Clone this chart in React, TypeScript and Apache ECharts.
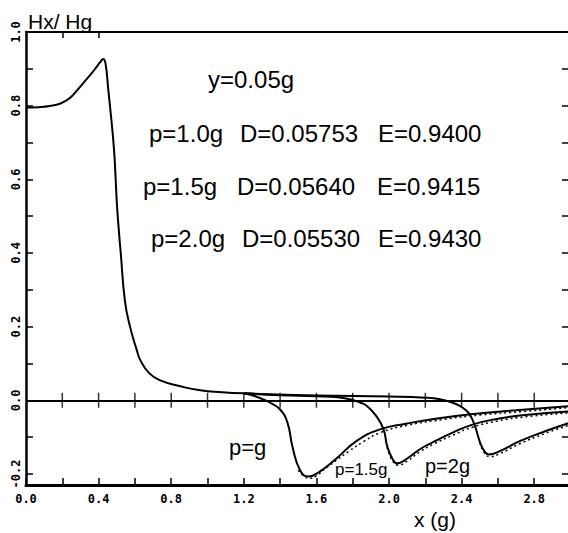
import React, { useEffect, useRef } from "react";
import * as echarts from "echarts";

// Main (shared) curve Hx/Hg, x in units of g
const mainX = [0.0, 0.07, 0.13, 0.19, 0.24, 0.28, 0.32, 0.36, 0.39, 0.41, 0.425, 0.438, 0.453, 0.472, 0.485, 0.492, 0.5, 0.51, 0.522, 0.545, 0.573, 0.61, 0.63, 0.68, 0.74, 0.85, 0.96, 1.08, 1.2];
const mainY = [0.795, 0.796, 0.799, 0.806, 0.82, 0.841, 0.864, 0.887, 0.906, 0.919, 0.927, 0.915, 0.845, 0.753, 0.68, 0.62, 0.54, 0.47, 0.4, 0.27, 0.2, 0.137, 0.109, 0.073, 0.054, 0.038, 0.027, 0.022, 0.019];

// p = 1.0g tail
const tail1X = [1.2, 1.25, 1.3, 1.35, 1.4, 1.44, 1.47, 1.51, 1.555, 1.62, 1.71, 1.82, 1.95, 2.1, 2.23, 2.45, 2.7, 2.99];
const tail1Y = [0.019, 0.013, 0.004, -0.008, -0.025, -0.06, -0.13, -0.19, -0.207, -0.193, -0.158, -0.111, -0.079, -0.063, -0.052, -0.038, -0.027, -0.016];

// p = 1.5g tail
const tail2X = [1.2, 1.4, 1.6, 1.72, 1.785, 1.84, 1.88, 1.93, 1.97, 1.99, 2.02, 2.045, 2.1, 2.17, 2.23, 2.35, 2.46, 2.6, 2.75, 2.99];
const tail2Y = [0.019, 0.014, 0.011, 0.008, 0.003, -0.006, -0.016, -0.043, -0.079, -0.125, -0.16, -0.171, -0.158, -0.133, -0.117, -0.088, -0.066, -0.05, -0.04, -0.03];

// p = 2.0g tail
const tail3X = [1.2, 1.6, 2.0, 2.2, 2.28, 2.34, 2.39, 2.43, 2.45, 2.475, 2.5, 2.525, 2.55, 2.61, 2.72, 2.86, 2.99];
const tail3Y = [0.019, 0.013, 0.01, 0.007, 0.003, -0.005, -0.015, -0.03, -0.043, -0.072, -0.112, -0.138, -0.147, -0.138, -0.111, -0.084, -0.062];

// Dotted companion curves (second computation) beside the dips
const dot1X = [1.5, 1.53, 1.56, 1.6, 1.65, 1.71, 1.78, 1.86, 1.95, 2.1, 2.3, 2.5, 2.75, 2.99];
const dot1Y = [-0.19, -0.205, -0.212, -0.205, -0.185, -0.163, -0.138, -0.112, -0.088, -0.068, -0.052, -0.04, -0.03, -0.02];
const dot2X = [1.99, 2.02, 2.05, 2.1, 2.17, 2.25, 2.35, 2.46, 2.6, 2.75, 2.99];
const dot2Y = [-0.128, -0.165, -0.176, -0.165, -0.14, -0.118, -0.095, -0.073, -0.056, -0.045, -0.034];
const dot3X = [2.5, 2.525, 2.555, 2.61, 2.72, 2.86, 2.99];
const dot3Y = [-0.115, -0.142, -0.153, -0.145, -0.118, -0.09, -0.068];

// Axis ticks and labels
const xTickValues = [0, 0.2, 0.4, 0.6, 0.8, 1.0, 1.2, 1.4, 1.6, 1.8, 2.0, 2.2, 2.4, 2.6, 2.8];
const xLabelValues = [0, 0.4, 0.8, 1.2, 1.6, 2.0, 2.4, 2.8];
const zeroLineCrossX = [0.2, 0.4, 0.6, 0.8, 1.0, 1.2, 1.4, 1.6, 1.8, 2.0, 2.2, 2.4, 2.6, 2.8];
const topTickValues = [0.2, 0.4];
const yTickValues = [-0.2, -0.1, 0, 0.1, 0.2, 0.3, 0.4, 0.5, 0.6, 0.7, 0.8, 0.9, 1.0];
const yLabelValues = [-0.2, 0, 0.2, 0.4, 0.6, 0.8, 1.0];

// Annotation texts
const gammaLabel = "y=0.05g";
const pLabels = ["p=1.0g", "p=1.5g", "p=2.0g"];
const dLabels = ["D=0.05753", "D=0.05640", "D=0.05530"];
const eLabels = ["E=0.9400", "E=0.9415", "E=0.9430"];
const curveLabels = ["p=g", "p=1.5g", "p=2g"];
const yTitle = "Hx/ Hg";
const xTitle = "x (g)";

const zip = (xs: number[], ys: number[]) => xs.map((x, i) => [x, ys[i]]);

const FONT = '"Liberation Sans", Arial, sans-serif';
const MONO = '"DejaVu Sans Mono", monospace';

export default function App() {
  const ref = useRef<HTMLDivElement>(null);

  useEffect(() => {
    if (!ref.current) return;
    const chart = echarts.init(ref.current, undefined, { renderer: "svg" });

    const lineSeries = (name: string, data: number[][], dotted = false) => ({
      name,
      type: "line",
      data,
      symbol: "none",
      smooth: 0.5,
      z: dotted ? 1 : 2,
      lineStyle: dotted
        ? { color: "#000", width: 1.5, type: [2, 3] }
        : { color: "#000", width: 2 },
      xAxisIndex: 0,
      yAxisIndex: 0,
    });

    const rowY = [133, 186, 238];
    const pX = [149, 143, 151];
    const dX = [240, 237, 242];
    const eX = [378, 377, 378];

    const texts: any[] = [];
    texts.push({
      type: "text",
      x: 28,
      y: 21,
      style: { text: yTitle, font: `21px ${FONT}`, fill: "#000", align: "left", verticalAlign: "middle" },
    });
    texts.push({
      type: "text",
      x: 208,
      y: 79,
      style: { text: gammaLabel, font: `24px ${FONT}`, fill: "#000", align: "left", verticalAlign: "middle" },
    });
    for (let i = 0; i < 3; i++) {
      [
        [pLabels[i], pX[i]],
        [dLabels[i], dX[i]],
        [eLabels[i], eX[i]],
      ].forEach(([t, x]) => {
        texts.push({
          type: "text",
          x: x as number,
          y: rowY[i],
          style: { text: t as string, font: `24px ${FONT}`, fill: "#000", align: "left", verticalAlign: "middle" },
        });
      });
    }
    const curveLabelPos = [
      [229, 447, 22],
      [335, 469, 17],
      [425, 466, 20],
    ];
    curveLabels.forEach((t, i) => {
      texts.push({
        type: "text",
        x: curveLabelPos[i][0],
        y: curveLabelPos[i][1],
        style: { text: t, font: `${curveLabelPos[i][2]}px ${FONT}`, fill: "#000", align: "left", verticalAlign: "middle" },
      });
    });
    texts.push({
      type: "text",
      x: 435,
      y: 519,
      style: { text: xTitle, font: `21px ${FONT}`, fill: "#000", align: "center", verticalAlign: "middle" },
    });

    chart.setOption({
      animation: false,
      backgroundColor: "#fff",
      grid: { left: 26, right: 0, top: 32, bottom: 48, containLabel: false },
      xAxis: [
        {
          type: "value",
          position: "bottom",
          min: 0,
          max: 2.986,
          axisLine: { show: true, onZero: false, lineStyle: { color: "#000", width: 3 } },
          axisTick: { show: true, inside: true, length: 7, customValues: xTickValues, lineStyle: { color: "#000", width: 1.5 } },
          axisLabel: {
            show: true,
            customValues: xLabelValues,
            formatter: (v: number) => v.toFixed(1),
            color: "#000",
            fontFamily: MONO,
            fontWeight: "bold",
            fontSize: 12,
            margin: 8,
          },
          splitLine: { show: false },
        },
        {
          type: "value",
          position: "top",
          min: 0,
          max: 2.986,
          axisLine: { show: true, onZero: false, lineStyle: { color: "#000", width: 2 } },
          axisTick: { show: true, inside: true, length: 6, customValues: topTickValues, lineStyle: { color: "#000", width: 1.5 } },
          axisLabel: { show: false },
          splitLine: { show: false },
        },
      ],
      yAxis: [
        {
          type: "value",
          position: "left",
          min: -0.23,
          max: 1.0,
          axisLine: { show: true, onZero: false, lineStyle: { color: "#000", width: 2.5 } },
          axisTick: { show: true, inside: true, length: 7, customValues: yTickValues, lineStyle: { color: "#000", width: 1.5 } },
          axisLabel: {
            show: true,
            customValues: yLabelValues,
            formatter: (v: number) => v.toFixed(1),
            rotate: 90,
            color: "#000",
            fontFamily: MONO,
            fontWeight: "bold",
            fontSize: 12,
            margin: 4,
          },
          splitLine: { show: false },
        },
        {
          type: "value",
          position: "right",
          min: -0.23,
          max: 1.0,
          axisLine: { show: false, onZero: false },
          axisTick: { show: true, inside: true, length: 6, customValues: yTickValues, lineStyle: { color: "#000", width: 1.5 } },
          axisLabel: { show: false },
          splitLine: { show: false },
        },
      ],
      series: [
        lineSeries("main", zip(mainX, mainY)),
        lineSeries("p=1.0g", zip(tail1X, tail1Y)),
        lineSeries("p=1.5g", zip(tail2X, tail2Y)),
        lineSeries("p=2.0g", zip(tail3X, tail3Y)),
        lineSeries("p=1.0g dotted", zip(dot1X, dot1Y), true),
        lineSeries("p=1.5g dotted", zip(dot2X, dot2Y), true),
        lineSeries("p=2.0g dotted", zip(dot3X, dot3Y), true),
        {
          name: "zero",
          type: "scatter",
          data: zeroLineCrossX.map((x) => [x, 0]),
          symbol: "rect",
          symbolSize: [1.5, 15],
          itemStyle: { color: "#000" },
          silent: true,
          markLine: {
            silent: true,
            symbol: ["none", "none"],
            label: { show: false },
            lineStyle: { color: "#000", width: 2, type: "solid" },
            data: [{ yAxis: 0 }],
          },
        },
      ],
      graphic: texts,
    });

    return () => chart.dispose();
  }, []);

  return (
    <div
      ref={ref}
      style={{ position: "absolute", left: 0, top: 0, width: 568, height: 533, background: "#fff" }}
    />
  );
}
